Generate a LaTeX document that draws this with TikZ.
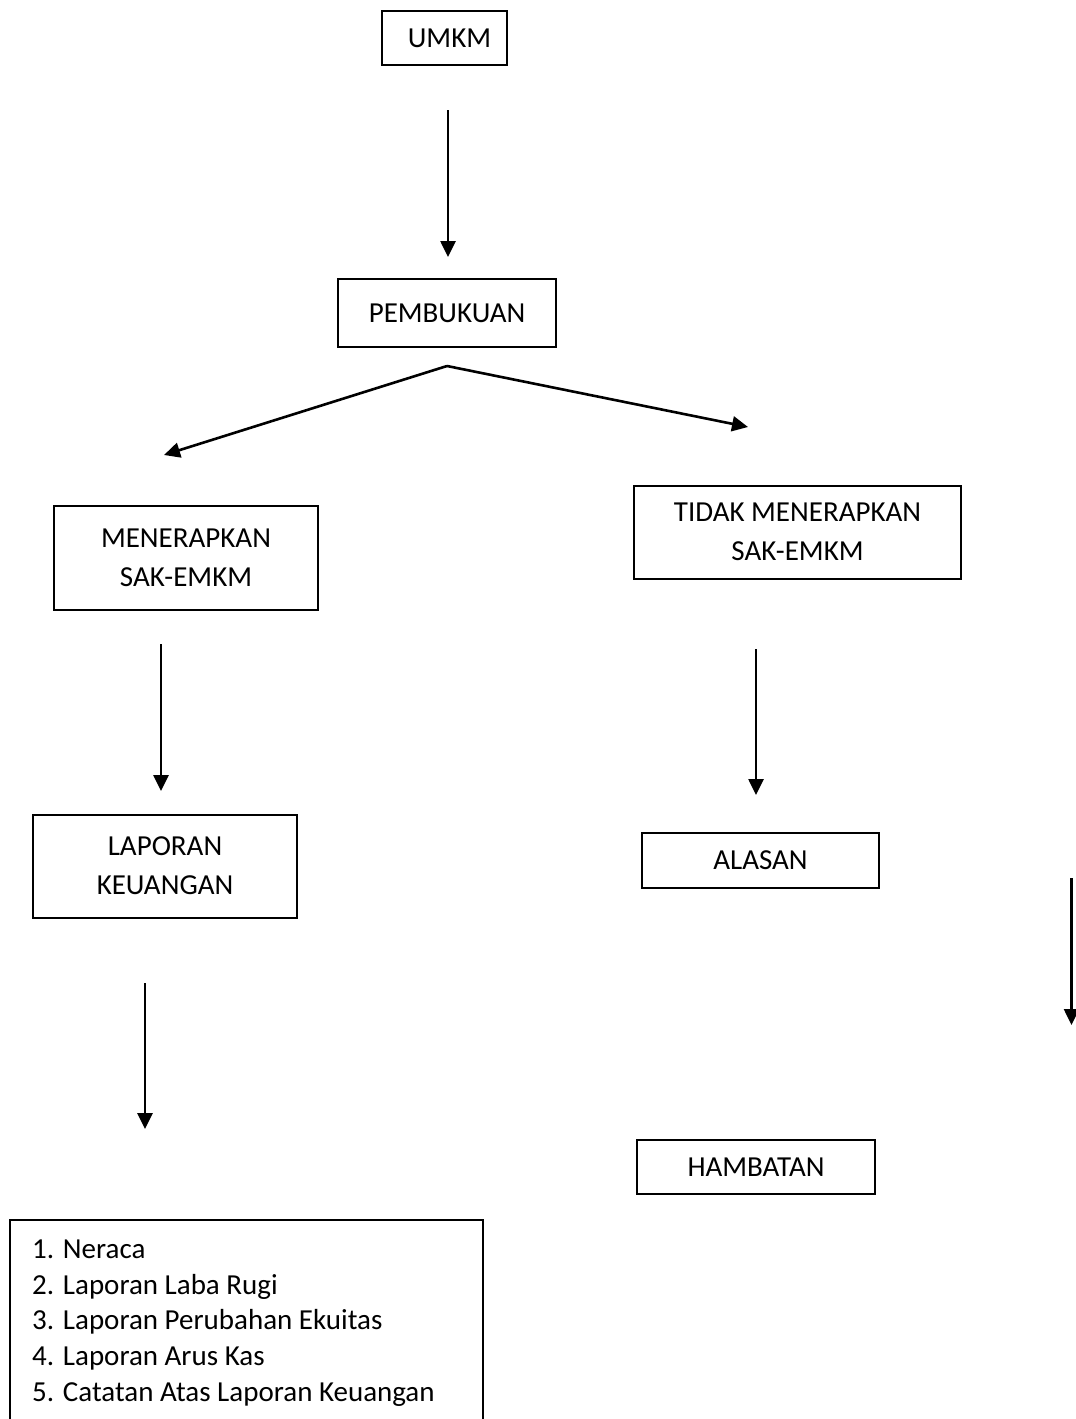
\documentclass[tikz,border=0pt]{standalone}
\usepackage{fontspec}
\setmainfont{Carlito}
\usetikzlibrary{arrows.meta}
\tikzset{
  box/.style={draw=black, line width=2pt, rectangle, inner sep=0pt, align=center,
    font=\fontsize{29}{39}\selectfont},
  arr/.style={line width=2.6pt, -{Triangle[length=16pt,width=15pt]}},
  listtext/.style={inner sep=0pt, align=left, anchor=north west,
    font=\fontsize{29}{35.8}\selectfont}
}
\begin{document}
\begin{tikzpicture}[x=1pt,y=-1pt]
\clip (0,0) rectangle (1076,1419);
\fill[white] (0,0) rectangle (1076,1419);

% boxes
\node[box, minimum width=125pt, minimum height=54pt] (umkm) at (444.5,38) {\hspace*{10pt}UMKM};
\node[box, minimum width=218pt, minimum height=68pt] (pemb) at (447,313) {PEMBUKUAN};
\node[box, minimum width=264pt, minimum height=104pt] (men) at (186,558) {MENERAPKAN\\SAK-EMKM};
\node[box, minimum width=327pt, minimum height=93pt] (tidak) at (797.5,532) {TIDAK MENERAPKAN\\SAK-EMKM};
\node[box, minimum width=264pt, minimum height=103pt] (lap) at (165,866) {LAPORAN\\KEUANGAN};
\node[box, minimum width=237pt, minimum height=55pt] (alasan) at (760.5,860.5) {ALASAN};
\node[box, minimum width=238pt, minimum height=54pt] (hamb) at (756,1167) {HAMBATAN};
\draw[line width=2pt] (10,1460) |- (483,1220) -- (483,1460);
\coordinate (listbox) at (10,1220);
\node[listtext] (list) at (32,1239.5) {1. Neraca\\2. Laporan Laba Rugi\\3. Laporan Perubahan Ekuitas\\4. Laporan Arus Kas\\5. Catatan Atas Laporan Keuangan};

% arrow coordinates
\coordinate (a1s) at (448,110);   \coordinate (a1e) at (448,257);
\coordinate (apex) at (447,366);
\coordinate (tipL) at (164,455);  \coordinate (tipR) at (748,427);
\coordinate (a2s) at (161,644);   \coordinate (a2e) at (161,791);
\coordinate (a3s) at (756,649);   \coordinate (a3e) at (756,795);
\coordinate (a4s) at (145,983);   \coordinate (a4e) at (145,1129);
\coordinate (a5s) at (1071.5,878); \coordinate (a5e) at (1071.5,1025);

\draw[arr] (a1s) -- (a1e);
\draw[arr] (apex) -- (tipL);
\draw[arr] (apex) -- (tipR);
\draw[arr] (a2s) -- (a2e);
\draw[arr] (a3s) -- (a3e);
\draw[arr] (a4s) -- (a4e);
\draw[arr] (a5s) -- (a5e);
\end{tikzpicture}
\end{document}
